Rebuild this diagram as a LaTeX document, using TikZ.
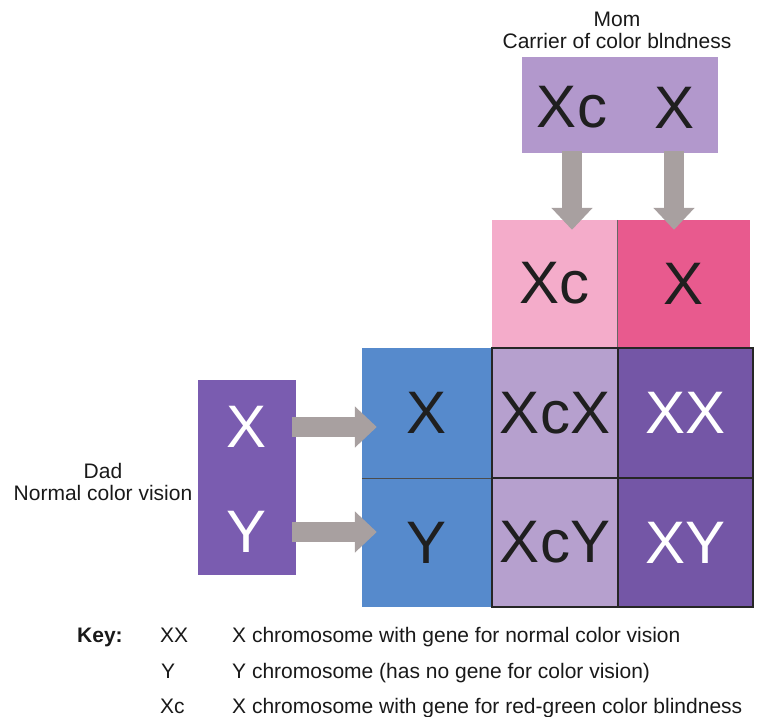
\documentclass[tikz,border=0pt]{standalone}
\usepackage{fontspec}
\setmainfont{Liberation Sans}
\usetikzlibrary{arrows.meta, positioning, calc}

\definecolor{momlav}{RGB}{178,152,204}
\definecolor{pinklight}{RGB}{244,172,202}
\definecolor{pinkhot}{RGB}{232,90,142}
\definecolor{spermblue}{RGB}{86,138,204}
\definecolor{dadpurple}{RGB}{122,92,176}
\definecolor{gridlight}{RGB}{182,160,206}
\definecolor{griddark}{RGB}{116,86,166}
\definecolor{arrowgrey}{RGB}{168,160,160}

\begin{document}
\begin{tikzpicture}[x=1pt, y=-1pt,
    cell/.style={rectangle, inner sep=0pt, font=\fontsize{60}{60}\selectfont, text=black!88},
    gridcell/.style={cell, draw=black!85, line width=1.3pt, minimum width=#1, minimum height=130pt},
    parent/.style={align=center, font=\fontsize{21}{22}\selectfont, text=black!90},
    keytext/.style={anchor=base west, inner sep=0pt, font=\fontsize{21}{22}\selectfont, text=black!90},
    fatarrow/.style={line width=20pt, draw=arrowgrey, -{Triangle[width=40pt, length=22pt]}}]

    \useasboundingbox (0,0) rectangle (765,716);

    % parents
    \node[parent] (momlabel) at (617,30) {Mom\\Carrier of color blndness};
    \node[fill=momlav, minimum width=196pt, minimum height=96pt] (mom) at (620,105) {};
    \node[cell] (momxc) at (572,107.5) {Xc};
    \node[cell] (momx) at (674,107.5) {X};

    \node[parent] (dadlabel) at (103,481.5) {Dad\\Normal color vision};
    \node[fill=dadpurple, minimum width=98pt, minimum height=195pt] (dad) at (247,477.5) {};
    \node[cell, text=white] (dadx) at (247,427) {X};
    \node[cell, text=white] (dady) at (247,532) {Y};

    % gametes
    \node[cell, fill=pinklight, minimum width=125pt, minimum height=127pt] (eggxc) at (554.5,283.5) {Xc};
    \node[cell, fill=pinkhot, minimum width=133pt, minimum height=127pt] (eggx) at (683.5,283.5) {X};
    \draw[black!60, line width=0.8pt] (eggxc.north east) -- (eggxc.south east);

    \node[cell, fill=spermblue, minimum width=130pt, minimum height=130pt] (spermx) at (427,413) {X};
    \node[cell, fill=spermblue, minimum width=130pt, minimum height=129pt] (spermy) at (427,542.5) {Y};
    \draw[black!70, line width=1pt] (spermx.south west) -- (spermx.south east);

    % offspring
    \node[gridcell=126pt, fill=gridlight] (xcx) at (555,413) {XcX};
    \node[gridcell=135pt, fill=griddark, text=white] (xx) at (685.5,413) {XX};
    \node[gridcell=126pt, fill=gridlight, minimum height=129pt] (xcy) at (555,542.5) {XcY};
    \node[gridcell=135pt, fill=griddark, text=white, minimum height=129pt] (xy) at (685.5,542.5) {XY};

    % arrows
    \draw[fatarrow] ($(momxc |- mom.south)+(0,-2)$) -- ($(momxc |- eggxc.north)+(0,10)$);
    \draw[fatarrow] ($(momx |- mom.south)+(0,-2)$) -- ($(momx |- eggx.north)+(0,10)$);
    \draw[fatarrow] ($(dadx -| dad.east)+(-4,0)$) -- ($(dadx -| spermx.west)+(15,0)$);
    \draw[fatarrow] ($(dady -| dad.east)+(-4,0)$) -- ($(dady -| spermy.west)+(15,0)$);

    % key
    \node[keytext, font=\fontsize{21}{22}\selectfont\bfseries] (keyhead) at (77,642) {Key:};
    \node[keytext] (keyxx) at (160,642) {XX};
    \node[keytext] (descxx) at (232,642) {X chromosome with gene for normal color vision};
    \node[keytext] (keyy) at (161,678) {Y};
    \node[keytext] (descy) at (232,678) {Y chromosome (has no gene for color vision)};
    \node[keytext] (keyxc) at (160,713) {Xc};
    \node[keytext] (descxc) at (232,713) {X chromosome with gene for red-green color blindness};
\end{tikzpicture}
\end{document}
